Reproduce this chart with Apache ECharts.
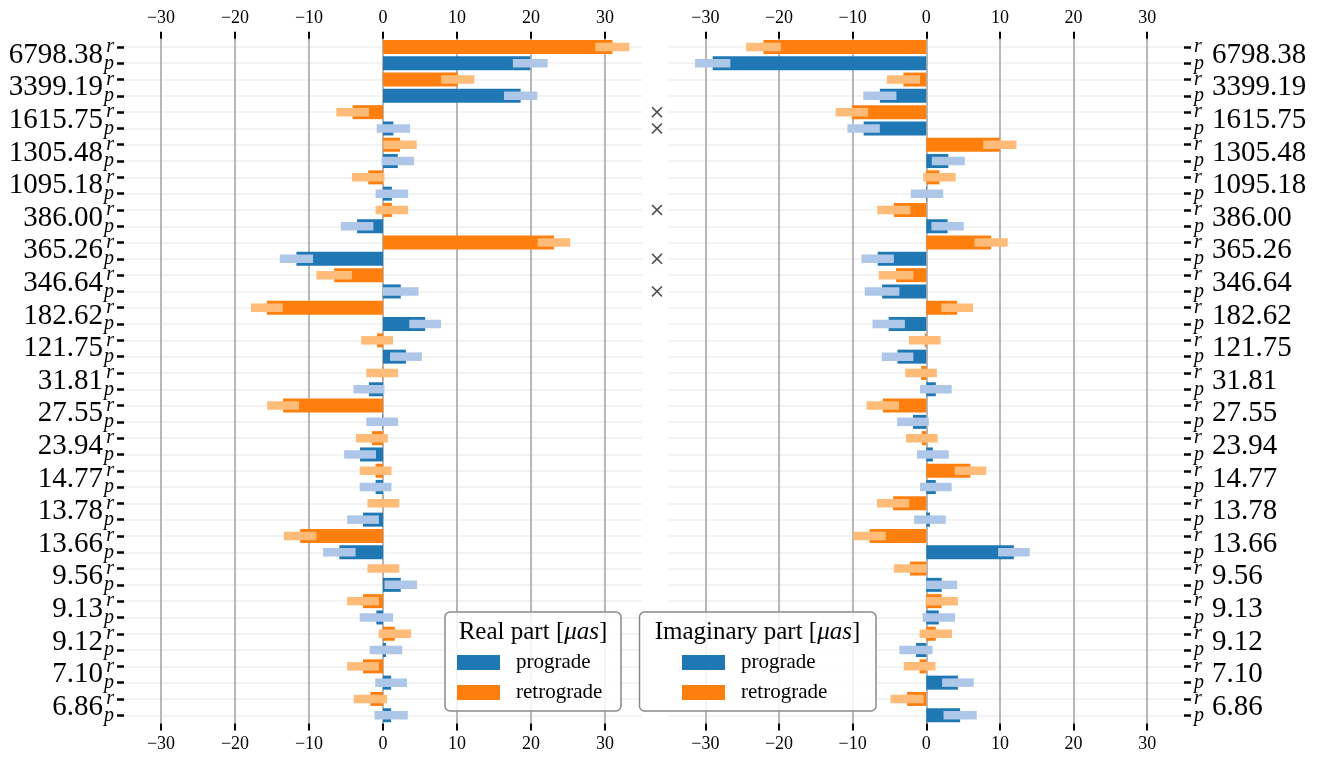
<!DOCTYPE html>
<html>
<head>
<meta charset="utf-8">
<script src="https://cdn.jsdelivr.net/npm/echarts@6/dist/echarts.min.js"></script>
<style>
html, body { margin: 0; padding: 0; background: #fff; }
#main { width: 1324px; height: 761px; }
</style>
</head>
<body>
<div id="main"></div>
<script>
// periods (days), each has a retrograde (r) row and a prograde (p) row
var periods = ['6798.38', '3399.19', '1615.75', '1305.48', '1095.18', '386.00', '365.26', '346.64',
    '182.62', '121.75', '31.81', '27.55', '23.94', '14.77', '13.78', '13.66', '9.56', '9.13',
    '9.12', '7.10', '6.86'];

// real part [uas]
var realRetro = [31.0, 10.1, -4.1, 2.3, -2.0, 1.2, 23.1, -6.6, -15.7, -0.8, -0.1, -13.5, -1.5, -1.0, 0.05, -11.2, 0.05, -2.7, 1.6, -2.7, -1.7];
var realRetroErr = [2.3, 2.25, 2.2, 2.25, 2.2, 2.2, 2.2, 2.4, 2.15, 2.15, 2.15, 2.15, 2.15, 2.15, 2.15, 2.2, 2.15, 2.15, 2.2, 2.15, 2.25];
var realPro = [19.9, 18.6, 1.4, 2.0, 1.2, -3.5, -11.7, 2.4, 5.7, 3.1, -1.9, -0.1, -3.1, -1.0, -2.7, -5.9, 2.4, -0.9, 0.4, 1.1, 1.1];
var realProErr = [2.35, 2.25, 2.25, 2.2, 2.2, 2.2, 2.25, 2.4, 2.15, 2.15, 2.1, 2.15, 2.15, 2.15, 2.15, 2.2, 2.2, 2.25, 2.2, 2.15, 2.25];

// imaginary part [uas]
var imagRetro = [-22.1, -3.1, -10.1, 10.0, 1.8, -4.4, 8.8, -4.1, 4.2, -0.2, -0.7, -5.9, -0.6, 6.0, -4.5, -7.7, -2.2, 2.1, 1.3, -0.9, -2.6];
var imagRetroErr = [2.35, 2.25, 2.2, 2.25, 2.2, 2.25, 2.25, 2.35, 2.15, 2.15, 2.15, 2.2, 2.15, 2.15, 2.2, 2.2, 2.2, 2.2, 2.2, 2.15, 2.25];
var imagPro = [-29.0, -6.3, -8.5, 3.0, 0.1, 2.9, -6.6, -6.0, -5.1, -3.9, 1.3, -1.8, 0.9, 1.3, 0.5, 11.9, 2.1, 1.7, -1.4, 4.3, 4.6];
var imagProErr = [2.4, 2.25, 2.2, 2.25, 2.2, 2.2, 2.2, 2.35, 2.2, 2.15, 2.15, 2.15, 2.15, 2.15, 2.15, 2.15, 2.1, 2.2, 2.25, 2.15, 2.25];

// rows marked with a cross between the panels
var crossRows = ['1615.75 r', '1615.75 p', '386.00 r', '365.26 p', '346.64 p'];

var tickValues = [-30, -20, -10, 0, 10, 20, 30];

var serif = 'Liberation Serif';
var C_PRO = '#1f77b4', C_RETRO = '#ff7f0e', C_PRO_L = '#aec7e8', C_RETRO_L = '#ffbb78';

var rows = [];
periods.forEach(function (p) {
    rows.push(p + ' r');
    rows.push(p + ' p');
});

function barData(vals, kind) {
    var out = [];
    vals.forEach(function (v) {
        if (kind === 'r') { out.push(v); out.push('-'); }
        else { out.push('-'); out.push(v); }
    });
    return out;
}

function errData(vals, errs, kind) {
    return vals.map(function (v, i) {
        return [v - errs[i], v + errs[i], i * 2 + (kind === 'r' ? 0 : 1)];
    });
}

function renderErr(color) {
    return function (params, api) {
        var y = api.value(2);
        var a = api.coord([api.value(0), y]);
        var b = api.coord([api.value(1), y]);
        var h = api.size([0, 1])[1] * 0.52;
        return {
            type: 'rect',
            shape: { x: a[0], y: a[1] - h / 2, width: b[0] - a[0], height: h },
            style: { fill: color }
        };
    };
}

function tickFmt(v) {
    return v < 0 ? '\u2212' + Math.abs(v) : String(v);
}

function xAx(gi, pos, show) {
    return {
        type: 'value', gridIndex: gi, position: pos, min: -35, max: 35,
        axisLine: { show: false, onZero: false },
        axisTick: { show: show, length: 7, customValues: tickValues, lineStyle: { color: '#000', width: 2 } },
        axisLabel: { show: show, customValues: tickValues, margin: 12, color: '#000', fontFamily: serif, fontSize: 18, formatter: tickFmt },
        splitLine: { show: show && pos === 'top', lineStyle: { color: '#b0b0b0', width: 1.8 } }
    };
}

var labelRich = {
    n: { fontFamily: serif, fontSize: 29, color: '#000', padding: [0, 1, 16.3, 0] },
    nr: { fontFamily: serif, fontSize: 29, color: '#000', padding: [0, 0, 16.3, 8] },
    s: { fontFamily: serif, fontStyle: 'italic', fontSize: 20, color: '#000' }
};

function yAx(gi, pos, show) {
    return {
        type: 'category', gridIndex: gi, data: rows, inverse: true, position: pos,
        axisLine: { show: false, onZero: false },
        axisTick: { show: show, interval: 0, alignWithLabel: true, length: 7, lineStyle: { color: '#000', width: 2.5 } },
        axisLabel: {
            show: show, interval: 0, margin: 10, rich: labelRich,
            formatter: function (val) {
                var parts = val.split(' ');
                if (parts[1] === 'r') return '{s|r}';
                return pos === 'left' ? '{n|' + parts[0] + '}{s|p}' : '{s|p}{nr|' + parts[0] + '}';
            }
        },
        splitLine: { show: show, interval: 0, alignWithLabel: true, lineStyle: { color: '#efefef', width: 1.5 } }
    };
}

var gridTop = 38.8, gridH = 684.6;

var dom = document.getElementById('main');
var myChart = echarts.init(dom);

var legendText = { fontFamily: serif, fontSize: 21, color: '#000', padding: [0, 0, 0, 11], lineHeight: 15 };

option = {
    animation: false,
    backgroundColor: '#fff',
    grid: [
        { left: 124, top: gridTop, width: 518, height: gridH, outerBoundsMode: 'none' },
        { left: 668.5, top: gridTop, width: 515.5, height: gridH, outerBoundsMode: 'none' },
        { left: 644, top: gridTop, width: 26, height: gridH, outerBoundsMode: 'none' }
    ],
    xAxis: [
        xAx(0, 'top', true), xAx(0, 'bottom', true),
        xAx(1, 'top', true), xAx(1, 'bottom', true),
        { type: 'value', gridIndex: 2, min: -1, max: 1, show: false }
    ],
    yAxis: [
        yAx(0, 'left', true),
        yAx(1, 'right', true),
        { type: 'category', gridIndex: 2, data: rows, inverse: true, show: false }
    ],
    legend: [
        {
            data: ['prograde', 'retrograde'], orient: 'vertical', left: 457, top: 652,
            itemWidth: 43, itemHeight: 15, itemGap: 9, icon: 'rect', padding: 0,
            selectedMode: false, textStyle: legendText, z: 8
        },
        {
            data: ['prograde', 'retrograde'], orient: 'vertical', left: 682, top: 652,
            itemWidth: 43, itemHeight: 15, itemGap: 9, icon: 'rect', padding: 0,
            selectedMode: false, textStyle: legendText, z: 8
        }
    ],
    graphic: [
        {
            type: 'rect', z: 6, shape: { x: 445, y: 612, width: 176, height: 99, r: 5 },
            style: { fill: 'rgba(255,255,255,0.85)', stroke: '#8a8a8a', lineWidth: 1.5 }
        },
        {
            type: 'text', z: 7, x: 533, y: 632,
            style: {
                text: '{a|Real part [}{b|\u03bcas}{a|]}', align: 'center', verticalAlign: 'middle',
                rich: {
                    a: { fontFamily: serif, fontSize: 25, fill: '#000' },
                    b: { fontFamily: serif, fontSize: 25, fontStyle: 'italic', fill: '#000' }
                }
            }
        },
        {
            type: 'rect', z: 6, shape: { x: 639.5, y: 612, width: 236.5, height: 99, r: 5 },
            style: { fill: 'rgba(255,255,255,0.85)', stroke: '#8a8a8a', lineWidth: 1.5 }
        },
        {
            type: 'text', z: 7, x: 757.5, y: 632,
            style: {
                text: '{a|Imaginary part [}{b|\u03bcas}{a|]}', align: 'center', verticalAlign: 'middle',
                rich: {
                    a: { fontFamily: serif, fontSize: 25, fill: '#000' },
                    b: { fontFamily: serif, fontSize: 25, fontStyle: 'italic', fill: '#000' }
                }
            }
        }
    ],
    series: [
        {
            name: 'prograde', type: 'bar', xAxisIndex: 0, yAxisIndex: 0, barWidth: 14, barGap: '-100%',
            itemStyle: { color: C_PRO }, data: barData(realPro, 'p'), silent: true
        },
        {
            name: 'retrograde', type: 'bar', xAxisIndex: 0, yAxisIndex: 0, barWidth: 14, barGap: '-100%',
            itemStyle: { color: C_RETRO }, data: barData(realRetro, 'r'), silent: true
        },
        {
            name: 'real pro err', type: 'custom', xAxisIndex: 0, yAxisIndex: 0, z: 3,
            renderItem: renderErr(C_PRO_L), encode: { x: [0, 1], y: 2 }, data: errData(realPro, realProErr, 'p'), silent: true
        },
        {
            name: 'real retro err', type: 'custom', xAxisIndex: 0, yAxisIndex: 0, z: 3,
            renderItem: renderErr(C_RETRO_L), encode: { x: [0, 1], y: 2 }, data: errData(realRetro, realRetroErr, 'r'), silent: true
        },
        {
            name: 'prograde', type: 'bar', xAxisIndex: 2, yAxisIndex: 1, barWidth: 14, barGap: '-100%',
            itemStyle: { color: C_PRO }, data: barData(imagPro, 'p'), silent: true
        },
        {
            name: 'retrograde', type: 'bar', xAxisIndex: 2, yAxisIndex: 1, barWidth: 14, barGap: '-100%',
            itemStyle: { color: C_RETRO }, data: barData(imagRetro, 'r'), silent: true
        },
        {
            name: 'imag pro err', type: 'custom', xAxisIndex: 2, yAxisIndex: 1, z: 3,
            renderItem: renderErr(C_PRO_L), encode: { x: [0, 1], y: 2 }, data: errData(imagPro, imagProErr, 'p'), silent: true
        },
        {
            name: 'imag retro err', type: 'custom', xAxisIndex: 2, yAxisIndex: 1, z: 3,
            renderItem: renderErr(C_RETRO_L), encode: { x: [0, 1], y: 2 }, data: errData(imagRetro, imagRetroErr, 'r'), silent: true
        },
        {
            name: 'cross', type: 'scatter', xAxisIndex: 4, yAxisIndex: 2, silent: true,
            symbol: 'path://M1,0L5,4L9,0L10,1L6,5L10,9L9,10L5,6L1,10L0,9L4,5L0,1Z', symbolSize: 11,
            itemStyle: { color: '#222' },
            data: crossRows.map(function (r) { return [0, r]; })
        }
    ]
};

if (option && typeof option === 'object') {
    myChart.setOption(option, true);
}

window.addEventListener('resize', function () {
    myChart.resize();
});
</script>
</body>
</html>
